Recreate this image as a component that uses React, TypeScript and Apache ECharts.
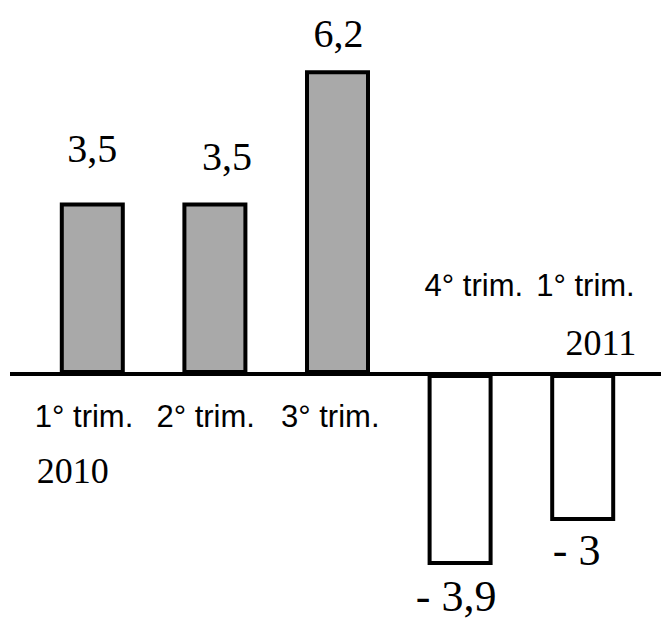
import React, { useEffect, useRef } from "react";
import * as echarts from "echarts";

const categories = ["1° trim.", "2° trim.", "3° trim.", "4° trim.", "1° trim."];
const years = ["2010", "", "", "", "2011"];
const values = [3.5, 3.5, 6.2, -3.9, -3];

const fmt = (v: number) => (v < 0 ? "- " : "") + String(Math.abs(v)).replace(".", ",");

export default function App() {
  const ref = useRef<HTMLDivElement>(null);
  useEffect(() => {
    const chart = echarts.init(ref.current!, null, { renderer: "svg" });

    const valueLabelTweak = [
      { distance: 34, dx: 0 },
      { distance: 26, dx: 12 },
      { distance: 17, dx: 1 },
      { distance: 9, dx: -4 },
      { distance: 7, dx: -6 },
    ];
    const catLabelPos = [
      [-57, 27],
      [-58, 27],
      [-56, 27],
      [-35, -104],
      [-46, -104],
    ];
    const yearLabelPos = [[-55, 79], null, null, null, [54, -49]];

    const xData = categories.map((c, i) => `${c} ${years[i]}`.trim());

    const serif = "'Liberation Serif', 'Times New Roman', serif";
    const sans = "'Liberation Sans', Arial, sans-serif";

    chart.setOption({
      animation: false,
      backgroundColor: "#ffffff",
      grid: { left: 31, right: 17, top: 31, bottom: 3 },
      xAxis: {
        type: "category",
        data: xData,
        axisLine: { show: false },
        axisTick: { show: false },
        axisLabel: { show: false },
        splitLine: { show: false },
      },
      yAxis: {
        type: "value",
        min: -5,
        max: 7,
        show: false,
        splitLine: { show: false },
      },
      series: [
        {
          type: "bar",
          name: "Variación",
          barWidth: 65,
          z: 3,
          data: values.map((v, i) => ({
            value: v,
            itemStyle: {
              color: v >= 0 ? "#a9a9a9" : "#ffffff",
              borderColor: "#000000",
              borderWidth: 4,
            },
            label: {
              show: true,
              position: v >= 0 ? "top" : "bottom",
              distance: valueLabelTweak[i].distance,
              offset: [valueLabelTweak[i].dx, 0],
              fontSize: v >= 0 ? 40 : 44,
              lineHeight: v >= 0 ? 40 : 44,
            },
          })),
          label: {
            show: true,
            color: "#000000",
            fontFamily: serif,
            formatter: (p: any) => fmt(p.value),
          },
        },
        {
          type: "scatter",
          name: "Trimestres",
          symbolSize: 1,
          itemStyle: { color: "#000000", opacity: 0 },
          silent: true,
          z: 4,
          data: categories.map((c, i) => ({
            value: [i, 0],
            label: { position: catLabelPos[i] },
          })),
          label: {
            show: true,
            opacity: 1,
            color: "#000000",
            fontFamily: sans,
            fontSize: 31,
            lineHeight: 31,
            align: "left",
            verticalAlign: "top",
            formatter: (p: any) => categories[p.dataIndex],
          },
        },
        {
          type: "scatter",
          name: "Años",
          symbolSize: 1,
          itemStyle: { color: "#000000", opacity: 0 },
          silent: true,
          z: 4,
          data: years
            .map((y, i) =>
              y
                ? {
                    value: [i, 0],
                    name: y,
                    label: {
                      position: yearLabelPos[i],
                      align: i === 0 ? "left" : "right",
                    },
                  }
                : null
            )
            .filter(Boolean),
          label: {
            show: true,
            opacity: 1,
            color: "#000000",
            fontFamily: serif,
            fontSize: 36,
            lineHeight: 36,
            verticalAlign: "top",
            formatter: (p: any) => p.name,
          },
        },
      ],
    });

    const y0 = chart.convertToPixel({ yAxisIndex: 0 }, 0) as number;
    chart.setOption({
      graphic: [
        {
          type: "line",
          z: 1,
          shape: { x1: 10, y1: y0, x2: 661, y2: y0 },
          style: { stroke: "#000000", lineWidth: 4 },
        },
      ],
    });

    return () => chart.dispose();
  }, []);

  return (
    <div
      ref={ref}
      style={{ position: "absolute", left: 0, top: 0, width: 661, height: 622 }}
    />
  );
}
